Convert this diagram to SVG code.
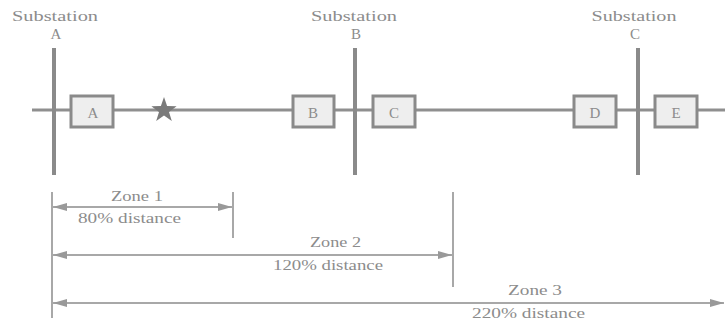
<svg xmlns="http://www.w3.org/2000/svg" width="725" height="325" viewBox="0 0 725 325">
  <defs>
    <marker id="arr" viewBox="0 0 14 8" refX="14" refY="4" markerWidth="14" markerHeight="8" markerUnits="userSpaceOnUse" orient="auto-start-reverse">
      <path d="M0,0 L14,4 L0,8 Z" fill="#999"/>
    </marker>
    <style>
      .lbl { font-size: 15px; fill: #8c8c8c; text-anchor: middle; }
      .bar { stroke: #8a8a8a; stroke-width: 4; }
      .feeder { stroke: #8f8f8f; stroke-width: 3; }
      .relay rect { fill: #eeeeee; stroke: #8a8a8a; stroke-width: 3; }
      .tick { stroke: #a8a8a8; stroke-width: 2; }
      .dim { stroke: #a8a8a8; stroke-width: 2; fill: none; }
    </style>
  </defs>
  <rect width="725" height="325" fill="#ffffff"/>

  <g font-family="'Liberation Serif', 'DejaVu Serif', 'Times New Roman', serif">
  <!-- transmission line -->
  <g id="line">
    <line class="feeder" x1="32" y1="110" x2="725" y2="110"/>
  </g>

  <!-- substations -->
  <g id="substation-a">
    <text class="lbl" x="55" y="21" textLength="86" lengthAdjust="spacingAndGlyphs">Substation</text>
    <text class="lbl" x="56" y="39">A</text>
    <line class="bar" x1="54" y1="48" x2="54" y2="175"/>
  </g>
  <g id="substation-b">
    <text class="lbl" x="354" y="21" textLength="86" lengthAdjust="spacingAndGlyphs">Substation</text>
    <text class="lbl" x="356" y="39">B</text>
    <line class="bar" x1="355" y1="48" x2="355" y2="175"/>
  </g>
  <g id="substation-c">
    <text class="lbl" x="634" y="21" textLength="85" lengthAdjust="spacingAndGlyphs">Substation</text>
    <text class="lbl" x="635" y="39">C</text>
    <line class="bar" x1="638" y1="48" x2="638" y2="175"/>
  </g>

  <!-- relays -->
  <g id="relay-a" class="relay">
    <rect x="71" y="96" width="42" height="31"/>
    <text class="lbl" x="93" y="118" font-size="16">A</text>
  </g>
  <g id="relay-b" class="relay">
    <rect x="293" y="96" width="41" height="31"/>
    <text class="lbl" x="313" y="118" font-size="16">B</text>
  </g>
  <g id="relay-c" class="relay">
    <rect x="373" y="96" width="42" height="31"/>
    <text class="lbl" x="394" y="118" font-size="16">C</text>
  </g>
  <g id="relay-d" class="relay">
    <rect x="574" y="96" width="42" height="31"/>
    <text class="lbl" x="595" y="118" font-size="16">D</text>
  </g>
  <g id="relay-e" class="relay">
    <rect x="655" y="96" width="42" height="31"/>
    <text class="lbl" x="676" y="118" font-size="16">E</text>
  </g>

  <!-- fault location -->
  <g id="fault">
    <polygon fill="#7a7a7a" points="164,97 167.1,106.1 176.6,106.2 169,111.9 171.8,121 164,115.5 156.2,121 159,111.9 151.4,106.2 160.9,106.1"/>
  </g>

  <!-- protection zones -->
  <g id="connectors">
    <line class="tick" x1="52" y1="192" x2="52" y2="318"/>
    <line class="tick" x1="233" y1="192" x2="233" y2="238"/>
    <line class="tick" x1="453" y1="192" x2="453" y2="287"/>
    <line class="dim" x1="53" y1="207" x2="232" y2="207" marker-start="url(#arr)" marker-end="url(#arr)"/>
    <line class="dim" x1="53" y1="255" x2="452" y2="255" marker-start="url(#arr)" marker-end="url(#arr)"/>
    <line class="dim" x1="53" y1="303" x2="724" y2="303" marker-start="url(#arr)" marker-end="url(#arr)"/>
  </g>

  <g id="zone-1">
    <text class="lbl" x="137" y="201" textLength="52" lengthAdjust="spacingAndGlyphs">Zone 1</text>
    <text class="lbl" x="129.5" y="223" textLength="103" lengthAdjust="spacingAndGlyphs">80% distance</text>
  </g>
  <g id="zone-2">
    <text class="lbl" x="335.5" y="247" textLength="51" lengthAdjust="spacingAndGlyphs">Zone 2</text>
    <text class="lbl" x="328" y="270" textLength="110" lengthAdjust="spacingAndGlyphs">120% distance</text>
  </g>
  <g id="zone-3">
    <text class="lbl" x="535" y="295" textLength="54" lengthAdjust="spacingAndGlyphs">Zone 3</text>
    <text class="lbl" x="528.5" y="318" textLength="113" lengthAdjust="spacingAndGlyphs">220% distance</text>
  </g>
  </g>
</svg>
